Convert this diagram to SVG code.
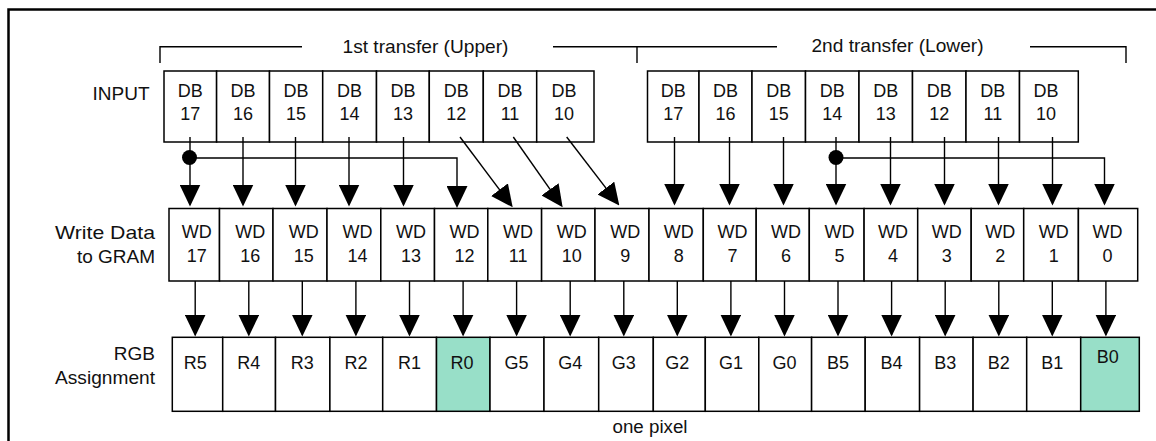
<svg xmlns="http://www.w3.org/2000/svg" width="1156" height="441" viewBox="0 0 1156 441">
<style>
.bg{fill:#fff}
.box{fill:#fff;stroke:#000;stroke-width:1.5}
.grn{fill:#98DFC8;stroke:#000;stroke-width:1.5}
.t{font-family:"Liberation Sans",Arial,Helvetica,sans-serif;font-size:18px;fill:#111}
.lb{font-size:19px}
.c{text-anchor:middle}
.r{text-anchor:end}
.ln{stroke:#000;stroke-width:1.4;fill:none}
.arr{stroke:#000;stroke-width:1.4;fill:none;marker-end:url(#ah)}
.frame{stroke:#000;stroke-width:2.5;fill:none}
</style>
<defs>
<marker id="ah" viewBox="0 0 22 21" refX="20" refY="10.5" markerWidth="22" markerHeight="21" markerUnits="userSpaceOnUse" orient="auto">
<path d="M0,0 L22,10.5 L0,21 Z" fill="#000"/>
</marker>
</defs>
<rect class="bg" x="0" y="0" width="1156" height="441"/>
<path class="frame" d="M8.5,441 V9.5 H1156"/>

<g id="brackets">
<path class="ln" d="M160,63 V46.7 H302"/>
<path class="ln" d="M553,46.7 H777 M637,46.7 V63"/>
<path class="ln" d="M1030,46.7 H1126 V63"/>
<text class="t lb c" x="425.5" y="52.5" textLength="166" lengthAdjust="spacingAndGlyphs">1st transfer (Upper)</text>
<text class="t lb c" x="897.5" y="52" textLength="172" lengthAdjust="spacingAndGlyphs">2nd transfer (Lower)</text>
</g>

<g id="labels">
<text class="t lb r" x="149.5" y="100">INPUT</text>
<text class="t lb r" x="155" y="238.5" textLength="100" lengthAdjust="spacingAndGlyphs">Write Data</text>
<text class="t lb r" x="155" y="262.5">to GRAM</text>
<text class="t lb r" x="155" y="360">RGB</text>
<text class="t lb r" x="155" y="383.5" textLength="100" lengthAdjust="spacingAndGlyphs">Assignment</text>
<text class="t c" x="650" y="432.5" textLength="75" lengthAdjust="spacingAndGlyphs">one pixel</text>
</g>

<g id="input-upper">
<g id="u-db17"><rect class="box" x="164" y="71" width="52.6" height="71"/><text class="t c" x="190.3" y="97.3">DB</text><text class="t c" x="190.3" y="120">17</text></g>
<g id="u-db16"><rect class="box" x="216.6" y="71" width="52.9" height="71"/><text class="t c" x="243" y="97.3">DB</text><text class="t c" x="243" y="120">16</text></g>
<g id="u-db15"><rect class="box" x="269.5" y="71" width="53.2" height="71"/><text class="t c" x="296.1" y="97.3">DB</text><text class="t c" x="296.1" y="120">15</text></g>
<g id="u-db14"><rect class="box" x="322.7" y="71" width="53.8" height="71"/><text class="t c" x="349.6" y="97.3">DB</text><text class="t c" x="349.6" y="120">14</text></g>
<g id="u-db13"><rect class="box" x="376.5" y="71" width="52.8" height="71"/><text class="t c" x="402.9" y="97.3">DB</text><text class="t c" x="402.9" y="120">13</text></g>
<g id="u-db12"><rect class="box" x="429.3" y="71" width="54" height="71"/><text class="t c" x="456.3" y="97.3">DB</text><text class="t c" x="456.3" y="120">12</text></g>
<g id="u-db11"><rect class="box" x="483.3" y="71" width="53.4" height="71"/><text class="t c" x="510" y="97.3">DB</text><text class="t c" x="510" y="120">11</text></g>
<g id="u-db10"><rect class="box" x="536.7" y="71" width="57.3" height="71"/><text class="t c" x="564" y="97.3">DB</text><text class="t c" x="564" y="120">10</text></g>
</g>

<g id="input-lower">
<g id="l-db17"><rect class="box" x="647.5" y="71" width="51.5" height="71"/><text class="t c" x="673.3" y="97.3">DB</text><text class="t c" x="673.3" y="120">17</text></g>
<g id="l-db16"><rect class="box" x="699" y="71" width="53" height="71"/><text class="t c" x="725.5" y="97.3">DB</text><text class="t c" x="725.5" y="120">16</text></g>
<g id="l-db15"><rect class="box" x="752" y="71" width="53.5" height="71"/><text class="t c" x="778.8" y="97.3">DB</text><text class="t c" x="778.8" y="120">15</text></g>
<g id="l-db14"><rect class="box" x="805.5" y="71" width="53.5" height="71"/><text class="t c" x="832.3" y="97.3">DB</text><text class="t c" x="832.3" y="120">14</text></g>
<g id="l-db13"><rect class="box" x="859" y="71" width="53.5" height="71"/><text class="t c" x="885.8" y="97.3">DB</text><text class="t c" x="885.8" y="120">13</text></g>
<g id="l-db12"><rect class="box" x="912.5" y="71" width="53.5" height="71"/><text class="t c" x="939.3" y="97.3">DB</text><text class="t c" x="939.3" y="120">12</text></g>
<g id="l-db11"><rect class="box" x="966" y="71" width="53.5" height="71"/><text class="t c" x="992.8" y="97.3">DB</text><text class="t c" x="992.8" y="120">11</text></g>
<g id="l-db10"><rect class="box" x="1019.5" y="71" width="58.8" height="71"/><text class="t c" x="1046" y="97.3">DB</text><text class="t c" x="1046" y="120">10</text></g>
</g>

<g id="write-data">
<g id="wd17"><rect class="box" x="169" y="208.5" width="50.5" height="72.5"/><text class="t c" x="196.7" y="238.3">WD</text><text class="t c" x="196.7" y="262.3">17</text></g>
<g id="wd16"><rect class="box" x="219.5" y="208.5" width="53.5" height="72.5"/><text class="t c" x="250.3" y="238.3">WD</text><text class="t c" x="250.3" y="262.3">16</text></g>
<g id="wd15"><rect class="box" x="273" y="208.5" width="54" height="72.5"/><text class="t c" x="303.8" y="238.3">WD</text><text class="t c" x="303.8" y="262.3">15</text></g>
<g id="wd14"><rect class="box" x="327" y="208.5" width="53.8" height="72.5"/><text class="t c" x="357.4" y="238.3">WD</text><text class="t c" x="357.4" y="262.3">14</text></g>
<g id="wd13"><rect class="box" x="380.8" y="208.5" width="53.7" height="72.5"/><text class="t c" x="411" y="238.3">WD</text><text class="t c" x="411" y="262.3">13</text></g>
<g id="wd12"><rect class="box" x="434.5" y="208.5" width="53.3" height="72.5"/><text class="t c" x="464.6" y="238.3">WD</text><text class="t c" x="464.6" y="262.3">12</text></g>
<g id="wd11"><rect class="box" x="487.8" y="208.5" width="53.8" height="72.5"/><text class="t c" x="518.1" y="238.3">WD</text><text class="t c" x="518.1" y="262.3">11</text></g>
<g id="wd10"><rect class="box" x="541.6" y="208.5" width="53.4" height="72.5"/><text class="t c" x="571.7" y="238.3">WD</text><text class="t c" x="571.7" y="262.3">10</text></g>
<g id="wd9"><rect class="box" x="595" y="208.5" width="54" height="72.5"/><text class="t c" x="625.3" y="238.3">WD</text><text class="t c" x="625.3" y="262.3">9</text></g>
<g id="wd8"><rect class="box" x="649" y="208.5" width="54.3" height="72.5"/><text class="t c" x="678.8" y="238.3">WD</text><text class="t c" x="678.8" y="262.3">8</text></g>
<g id="wd7"><rect class="box" x="703.3" y="208.5" width="52.9" height="72.5"/><text class="t c" x="732.4" y="238.3">WD</text><text class="t c" x="732.4" y="262.3">7</text></g>
<g id="wd6"><rect class="box" x="756.2" y="208.5" width="53.1" height="72.5"/><text class="t c" x="786" y="238.3">WD</text><text class="t c" x="786" y="262.3">6</text></g>
<g id="wd5"><rect class="box" x="809.3" y="208.5" width="54.8" height="72.5"/><text class="t c" x="839.5" y="238.3">WD</text><text class="t c" x="839.5" y="262.3">5</text></g>
<g id="wd4"><rect class="box" x="864.1" y="208.5" width="53.6" height="72.5"/><text class="t c" x="893.1" y="238.3">WD</text><text class="t c" x="893.1" y="262.3">4</text></g>
<g id="wd3"><rect class="box" x="917.7" y="208.5" width="53.5" height="72.5"/><text class="t c" x="946.7" y="238.3">WD</text><text class="t c" x="946.7" y="262.3">3</text></g>
<g id="wd2"><rect class="box" x="971.2" y="208.5" width="52.5" height="72.5"/><text class="t c" x="1000.3" y="238.3">WD</text><text class="t c" x="1000.3" y="262.3">2</text></g>
<g id="wd1"><rect class="box" x="1023.7" y="208.5" width="54.7" height="72.5"/><text class="t c" x="1053.8" y="238.3">WD</text><text class="t c" x="1053.8" y="262.3">1</text></g>
<g id="wd0"><rect class="box" x="1078.4" y="208.5" width="59.3" height="72.5"/><text class="t c" x="1107.4" y="238.3">WD</text><text class="t c" x="1107.4" y="262.3">0</text></g>
</g>

<g id="rgb">
<g id="r5"><rect class="box" x="172.3" y="337.3" width="50.4" height="74"/><text class="t c" x="195.2" y="368.5">R5</text></g>
<g id="r4"><rect class="box" x="222.7" y="337.3" width="52.8" height="74"/><text class="t c" x="248.8" y="368.5">R4</text></g>
<g id="r3"><rect class="box" x="275.5" y="337.3" width="54.4" height="74"/><text class="t c" x="302.3" y="368.5">R3</text></g>
<g id="r2"><rect class="box" x="329.9" y="337.3" width="52.8" height="74"/><text class="t c" x="355.9" y="368.5">R2</text></g>
<g id="r1"><rect class="box" x="382.7" y="337.3" width="53.8" height="74"/><text class="t c" x="409.5" y="368.5">R1</text></g>
<g id="r0"><rect class="grn" x="436.5" y="337.3" width="53.5" height="74"/><text class="t c" x="462" y="368.5">R0</text></g>
<g id="g5"><rect class="box" x="490" y="337.3" width="54" height="74"/><text class="t c" x="516.6" y="368.5">G5</text></g>
<g id="g4"><rect class="box" x="544" y="337.3" width="54.7" height="74"/><text class="t c" x="570.2" y="368.5">G4</text></g>
<g id="g3"><rect class="box" x="598.7" y="337.3" width="54.6" height="74"/><text class="t c" x="623.8" y="368.5">G3</text></g>
<g id="g2"><rect class="box" x="653.3" y="337.3" width="52" height="74"/><text class="t c" x="677.3" y="368.5">G2</text></g>
<g id="g1"><rect class="box" x="705.3" y="337.3" width="53.5" height="74"/><text class="t c" x="730.9" y="368.5">G1</text></g>
<g id="g0"><rect class="box" x="758.8" y="337.3" width="52.8" height="74"/><text class="t c" x="784.5" y="368.5">G0</text></g>
<g id="b5"><rect class="box" x="811.6" y="337.3" width="53.6" height="74"/><text class="t c" x="838" y="368.5">B5</text></g>
<g id="b4"><rect class="box" x="865.2" y="337.3" width="54.4" height="74"/><text class="t c" x="891.6" y="368.5">B4</text></g>
<g id="b3"><rect class="box" x="919.6" y="337.3" width="53.5" height="74"/><text class="t c" x="945.2" y="368.5">B3</text></g>
<g id="b2"><rect class="box" x="973.1" y="337.3" width="53.6" height="74"/><text class="t c" x="998.8" y="368.5">B2</text></g>
<g id="b1"><rect class="box" x="1026.7" y="337.3" width="54" height="74"/><text class="t c" x="1052.3" y="368.5">B1</text></g>
<g id="b0"><rect class="grn" x="1080.7" y="337.3" width="58.6" height="74"/><text class="t c" x="1107.7" y="362.5">B0</text></g>
</g>

<g id="connectors">
<line class="arr" x1="190" y1="137" x2="190" y2="204.5"/>
<line class="arr" x1="243" y1="137" x2="243" y2="204.5"/>
<line class="arr" x1="295.5" y1="137" x2="295.5" y2="204.5"/>
<line class="arr" x1="349" y1="137" x2="349" y2="204.5"/>
<line class="arr" x1="403.5" y1="137" x2="403.5" y2="204.5"/>
<path class="arr" d="M189.5,158 H457 V206"/>
<circle cx="189.5" cy="157.5" r="7.5" fill="#000"/>
<line class="arr" x1="460" y1="137" x2="511.5" y2="205.7"/>
<line class="arr" x1="513.3" y1="137" x2="561.5" y2="205.7"/>
<line class="arr" x1="566.7" y1="137" x2="618.1" y2="203.9"/>

<line class="arr" x1="674.5" y1="137" x2="674.5" y2="203.5"/>
<line class="arr" x1="729.5" y1="137" x2="729.5" y2="203.5"/>
<line class="arr" x1="783.5" y1="137" x2="783.5" y2="203.5"/>
<line class="arr" x1="836" y1="137" x2="836" y2="203.5"/>
<line class="arr" x1="890.5" y1="137" x2="890.5" y2="203.5"/>
<line class="arr" x1="944.5" y1="137" x2="944.5" y2="203.5"/>
<line class="arr" x1="998.5" y1="137" x2="998.5" y2="203.5"/>
<line class="arr" x1="1052.5" y1="137" x2="1052.5" y2="203.5"/>
<path class="arr" d="M836,158 H1104.5 V203.5"/>
<circle cx="836" cy="157.5" r="7.5" fill="#000"/>

<line class="arr" x1="195.2" y1="281" x2="195.2" y2="334.5"/>
<line class="arr" x1="248.8" y1="281" x2="248.8" y2="334.5"/>
<line class="arr" x1="302.3" y1="281" x2="302.3" y2="334.5"/>
<line class="arr" x1="355.9" y1="281" x2="355.9" y2="334.5"/>
<line class="arr" x1="409.5" y1="281" x2="409.5" y2="334.5"/>
<line class="arr" x1="463.1" y1="281" x2="463.1" y2="334.5"/>
<line class="arr" x1="516.6" y1="281" x2="516.6" y2="334.5"/>
<line class="arr" x1="570.2" y1="281" x2="570.2" y2="334.5"/>
<line class="arr" x1="623.8" y1="281" x2="623.8" y2="334.5"/>
<line class="arr" x1="677.3" y1="281" x2="677.3" y2="334.5"/>
<line class="arr" x1="730.9" y1="281" x2="730.9" y2="334.5"/>
<line class="arr" x1="784.5" y1="281" x2="784.5" y2="334.5"/>
<line class="arr" x1="838" y1="281" x2="838" y2="334.5"/>
<line class="arr" x1="891.6" y1="281" x2="891.6" y2="334.5"/>
<line class="arr" x1="945.2" y1="281" x2="945.2" y2="334.5"/>
<line class="arr" x1="998.8" y1="281" x2="998.8" y2="334.5"/>
<line class="arr" x1="1052.3" y1="281" x2="1052.3" y2="334.5"/>
<line class="arr" x1="1105.9" y1="281" x2="1105.9" y2="334.5"/>
</g>
</svg>
